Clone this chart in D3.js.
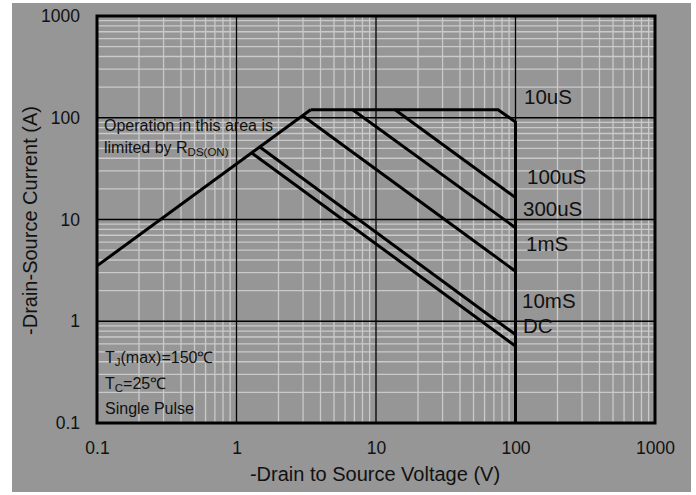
<!DOCTYPE html>
<html><head><meta charset="utf-8">
<script src="https://cdn.jsdelivr.net/npm/d3@7"></script>
<style>
html,body{margin:0;padding:0;background:#fff;}
svg{display:block;font-family:"Liberation Sans",Arial,sans-serif;}
</style></head>
<body>
<svg id="chart" width="696" height="495"></svg>
<script>
// ---------- data ----------
const xTickValues = [0.1, 1, 10, 100, 1000];
const xTickLabels = ["0.1", "1", "10", "100", "1000"];
const yTickValues = [0.1, 1, 10, 100, 1000];
const yTickLabels = ["0.1", "1", "10", "100", "1000"];

const rdsLimit   = [[0.1, 3.5], [3.4, 120]];
const pulse10us  = [[3.4, 120], [75, 120], [100, 91], [100, 0.1]];
const pulse100us = [[13.7, 120], [100, 16.4]];
const pulse300us = [[6.8, 120], [100, 8.3]];
const pulse1ms   = [[3.0, 104], [100, 3.1]];
const pulse10ms  = [[1.47, 51.5], [100, 0.74]];
const dcLine     = [[1.29, 45], [100, 0.57]];

const seriesLabels = ["10uS", "100uS", "300uS", "1mS", "10mS", "DC"];

const xTitle = "-Drain to Source Voltage (V)";
const yTitle = "-Drain-Source Current (A)";

// ---------- layout ----------
const svg = d3.select("#chart");
const L = 97, R = 655, T = 16, B = 423;

svg.append("rect").attr("x", 12).attr("y", 3).attr("width", 679).attr("height", 489)
  .attr("fill", "#969696");

const x = d3.scaleLog().domain([0.1, 1000]).range([L, R]);
const y = d3.scaleLog().domain([0.1, 1000]).range([B, T]);

const isMajor = v => Math.abs(Math.log10(v) - Math.round(Math.log10(v))) < 1e-9;
const xMinor = x.ticks().filter(v => !isMajor(v));
const yMinor = y.ticks().filter(v => !isMajor(v));

const grid = svg.append("g");
grid.selectAll("line.xm").data(xMinor).join("line")
  .attr("x1", d => x(d)).attr("x2", d => x(d)).attr("y1", T).attr("y2", B)
  .attr("stroke", "#cacaca").attr("stroke-width", 1.3);
grid.selectAll("line.ym").data(yMinor).join("line")
  .attr("y1", d => y(d)).attr("y2", d => y(d)).attr("x1", L).attr("x2", R)
  .attr("stroke", "#cacaca").attr("stroke-width", 1.3);
grid.selectAll("line.xM").data(xTickValues).join("line")
  .attr("x1", d => x(d)).attr("x2", d => x(d)).attr("y1", T).attr("y2", B)
  .attr("stroke", "#000").attr("stroke-width", 1.3);
grid.selectAll("line.yM").data(yTickValues).join("line")
  .attr("y1", d => y(d)).attr("y2", d => y(d)).attr("x1", L).attr("x2", R)
  .attr("stroke", "#000").attr("stroke-width", 1.3);

// series
const line = d3.line().x(d => x(d[0])).y(d => y(d[1]));
const allSeries = [rdsLimit, pulse10us, pulse100us, pulse300us, pulse1ms, pulse10ms, dcLine];
svg.append("g").selectAll("path").data(allSeries).join("path")
  .attr("d", line).attr("fill", "none").attr("stroke", "#000")
  .attr("stroke-width", 3).attr("stroke-linejoin", "miter");

// border
svg.append("rect").attr("x", L).attr("y", T).attr("width", R - L).attr("height", B - T)
  .attr("fill", "none").attr("stroke", "#000").attr("stroke-width", 3);

// axes
const xAxis = d3.axisBottom(x).tickValues(xTickValues)
  .tickFormat((d, i) => xTickLabels[i]).tickSize(0).tickPadding(18.5);
const gx = svg.append("g").attr("transform", `translate(0,${B})`).call(xAxis);
gx.select(".domain").remove();
gx.selectAll("text").attr("font-size", 17.5).attr("fill", "#111")
  .attr("font-family", "Liberation Sans, Arial, sans-serif");

const yAxis = d3.axisLeft(y).tickValues(yTickValues)
  .tickFormat((d, i) => yTickLabels[i]).tickSize(0).tickPadding(17);
const gy = svg.append("g").attr("transform", `translate(${L},0)`).call(yAxis);
gy.select(".domain").remove();
gy.selectAll("text").attr("font-size", 17.5).attr("fill", "#111")
  .attr("font-family", "Liberation Sans, Arial, sans-serif");

// titles
svg.append("text").attr("x", 375).attr("y", 481).attr("text-anchor", "middle")
  .attr("font-size", 20).attr("fill", "#111").text(xTitle);
svg.append("text").attr("transform", "translate(37,220.5) rotate(-90)")
  .attr("text-anchor", "middle").attr("font-size", 20).attr("fill", "#111").text(yTitle);

// series labels
const labelPos = [[524, 104], [527, 184], [523, 216], [526, 251], [522, 308], [523, 333]];
svg.append("g").selectAll("text").data(seriesLabels).join("text")
  .attr("x", (d, i) => labelPos[i][0]).attr("y", (d, i) => labelPos[i][1])
  .attr("font-size", 20.5).attr("fill", "#111").text(d => d);

// annotations
const ann = svg.append("g").attr("font-size", 16).attr("fill", "#111");
ann.append("text").attr("x", 104).attr("y", 131).text("Operation in this area is");
const t2 = ann.append("text").attr("x", 104).attr("y", 153);
t2.append("tspan").text("limited by R");
t2.append("tspan").attr("font-size", 11.5).attr("dy", 3).text("DS(ON)");

const t3 = ann.append("text").attr("x", 105).attr("y", 363);
t3.append("tspan").text("T");
t3.append("tspan").attr("font-size", 11.5).attr("dy", 3).text("J");
t3.append("tspan").attr("dy", -3).text("(max)=150℃");

const t4 = ann.append("text").attr("x", 105).attr("y", 389);
t4.append("tspan").text("T");
t4.append("tspan").attr("font-size", 11.5).attr("dy", 3).text("C");
t4.append("tspan").attr("dy", -3).text("=25℃");

ann.append("text").attr("x", 105).attr("y", 414).text("Single Pulse");
</script>
</body></html>
